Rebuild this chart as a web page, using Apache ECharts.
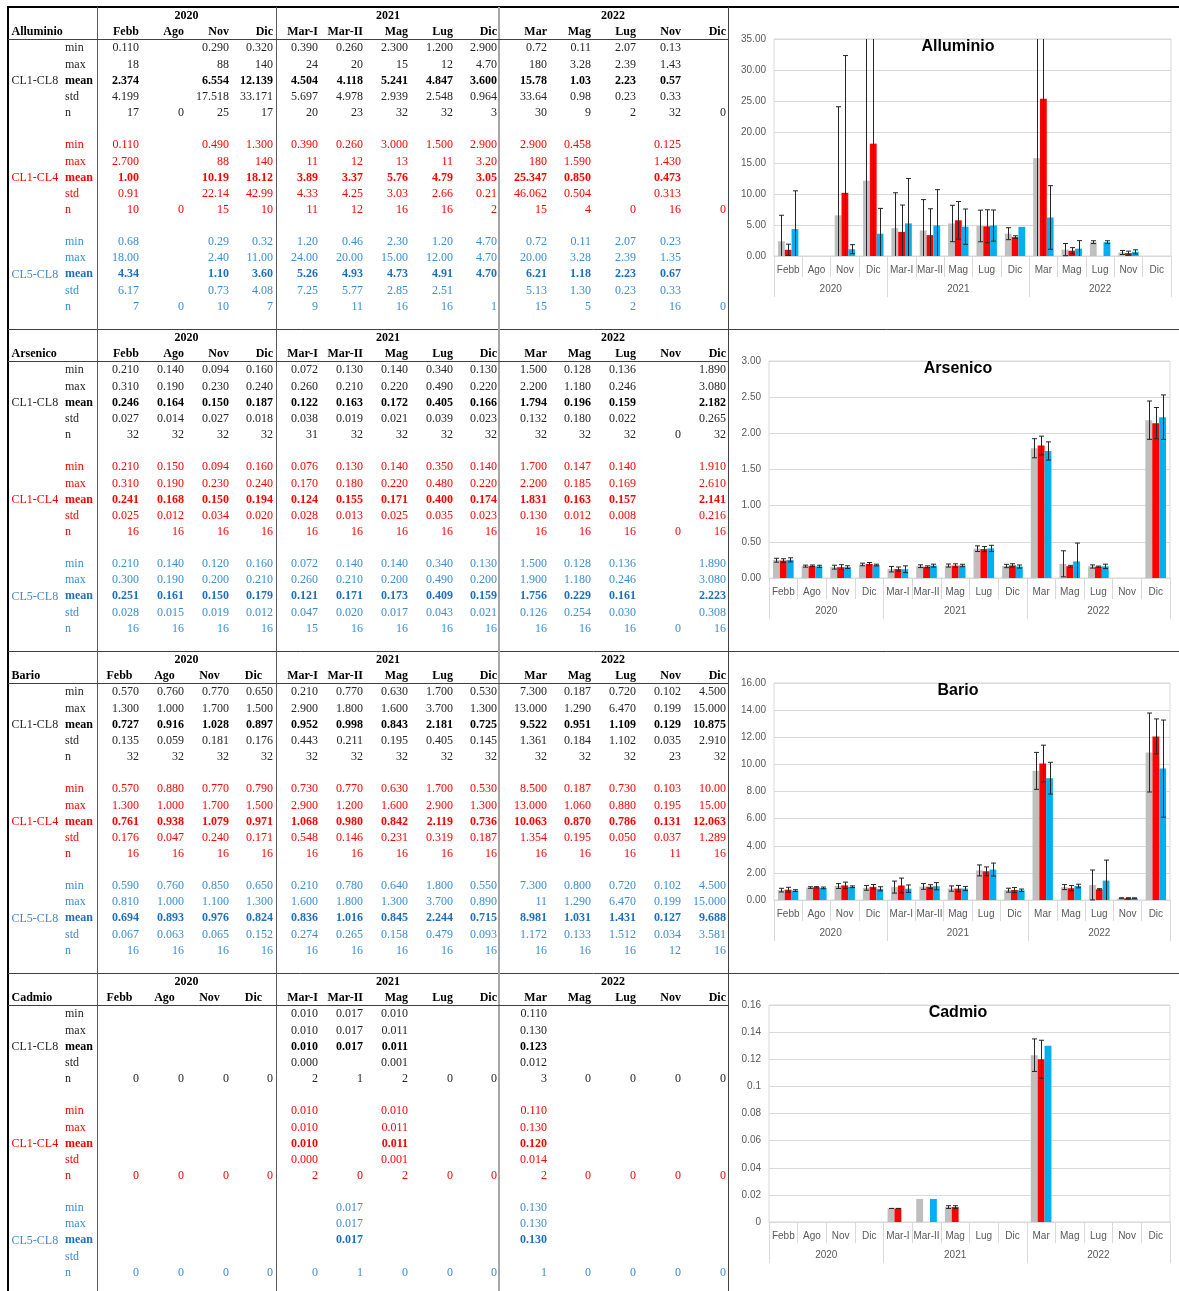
<!DOCTYPE html>
<html><head><meta charset="utf-8">
<script src="https://cdn.jsdelivr.net/npm/echarts@6/dist/echarts.min.js"></script>
<style>html,body{margin:0;padding:0;background:#fff}#c{width:1179px;height:1291px}</style>
</head><body><div id="c"></div>
<script>
// ---------- categories ----------
const months = ['Febb','Ago','Nov','Dic','Mar-I','Mar-II','Mag','Lug','Dic','Mar','Mag','Lug','Nov','Dic'];
const years = ['2020','2021','2022'];
const yearStart = [0, 4, 9];
const groupNames = ['CL1-CL8','CL1-CL4','CL5-CL8'];
const statNames = ['min','max','mean','std','n'];

// ---------- Alluminio ----------
const AL1_min  = ['0.110','','0.290','0.320','0.390','0.260','2.300','1.200','2.900','0.72','0.11','2.07','0.13',''];
const AL1_max  = ['18','','88','140','24','20','15','12','4.70','180','3.28','2.39','1.43',''];
const AL1_mean = ['2.374','','6.554','12.139','4.504','4.118','5.241','4.847','3.600','15.78','1.03','2.23','0.57',''];
const AL1_std  = ['4.199','','17.518','33.171','5.697','4.978','2.939','2.548','0.964','33.64','0.98','0.23','0.33',''];
const AL1_n    = ['17','0','25','17','20','23','32','32','3','30','9','2','32','0'];
const AL2_min  = ['0.110','','0.490','1.300','0.390','0.260','3.000','1.500','2.900','2.900','0.458','','0.125',''];
const AL2_max  = ['2.700','','88','140','11','12','13','11','3.20','180','1.590','','1.430',''];
const AL2_mean = ['1.00','','10.19','18.12','3.89','3.37','5.76','4.79','3.05','25.347','0.850','','0.473',''];
const AL2_std  = ['0.91','','22.14','42.99','4.33','4.25','3.03','2.66','0.21','46.062','0.504','','0.313',''];
const AL2_n    = ['10','0','15','10','11','12','16','16','2','15','4','0','16','0'];
const AL3_min  = ['0.68','','0.29','0.32','1.20','0.46','2.30','1.20','4.70','0.72','0.11','2.07','0.23',''];
const AL3_max  = ['18.00','','2.40','11.00','24.00','20.00','15.00','12.00','4.70','20.00','3.28','2.39','1.35',''];
const AL3_mean = ['4.34','','1.10','3.60','5.26','4.93','4.73','4.91','4.70','6.21','1.18','2.23','0.67',''];
const AL3_std  = ['6.17','','0.73','4.08','7.25','5.77','2.85','2.51','','5.13','1.30','0.23','0.33',''];
const AL3_n    = ['7','0','10','7','9','11','16','16','1','15','5','2','16','0'];

// ---------- Arsenico ----------
const AS1_min  = ['0.210','0.140','0.094','0.160','0.072','0.130','0.140','0.340','0.130','1.500','0.128','0.136','','1.890'];
const AS1_max  = ['0.310','0.190','0.230','0.240','0.260','0.210','0.220','0.490','0.220','2.200','1.180','0.246','','3.080'];
const AS1_mean = ['0.246','0.164','0.150','0.187','0.122','0.163','0.172','0.405','0.166','1.794','0.196','0.159','','2.182'];
const AS1_std  = ['0.027','0.014','0.027','0.018','0.038','0.019','0.021','0.039','0.023','0.132','0.180','0.022','','0.265'];
const AS1_n    = ['32','32','32','32','31','32','32','32','32','32','32','32','0','32'];
const AS2_min  = ['0.210','0.150','0.094','0.160','0.076','0.130','0.140','0.350','0.140','1.700','0.147','0.140','','1.910'];
const AS2_max  = ['0.310','0.190','0.230','0.240','0.170','0.180','0.220','0.480','0.220','2.200','0.185','0.169','','2.610'];
const AS2_mean = ['0.241','0.168','0.150','0.194','0.124','0.155','0.171','0.400','0.174','1.831','0.163','0.157','','2.141'];
const AS2_std  = ['0.025','0.012','0.034','0.020','0.028','0.013','0.025','0.035','0.023','0.130','0.012','0.008','','0.216'];
const AS2_n    = ['16','16','16','16','16','16','16','16','16','16','16','16','0','16'];
const AS3_min  = ['0.210','0.140','0.120','0.160','0.072','0.140','0.140','0.340','0.130','1.500','0.128','0.136','','1.890'];
const AS3_max  = ['0.300','0.190','0.200','0.210','0.260','0.210','0.200','0.490','0.200','1.900','1.180','0.246','','3.080'];
const AS3_mean = ['0.251','0.161','0.150','0.179','0.121','0.171','0.173','0.409','0.159','1.756','0.229','0.161','','2.223'];
const AS3_std  = ['0.028','0.015','0.019','0.012','0.047','0.020','0.017','0.043','0.021','0.126','0.254','0.030','','0.308'];
const AS3_n    = ['16','16','16','16','15','16','16','16','16','16','16','16','0','16'];

// ---------- Bario ----------
const BA1_min  = ['0.570','0.760','0.770','0.650','0.210','0.770','0.630','1.700','0.530','7.300','0.187','0.720','0.102','4.500'];
const BA1_max  = ['1.300','1.000','1.700','1.500','2.900','1.800','1.600','3.700','1.300','13.000','1.290','6.470','0.199','15.000'];
const BA1_mean = ['0.727','0.916','1.028','0.897','0.952','0.998','0.843','2.181','0.725','9.522','0.951','1.109','0.129','10.875'];
const BA1_std  = ['0.135','0.059','0.181','0.176','0.443','0.211','0.195','0.405','0.145','1.361','0.184','1.102','0.035','2.910'];
const BA1_n    = ['32','32','32','32','32','32','32','32','32','32','32','32','23','32'];
const BA2_min  = ['0.570','0.880','0.770','0.790','0.730','0.770','0.630','1.700','0.530','8.500','0.187','0.730','0.103','10.00'];
const BA2_max  = ['1.300','1.000','1.700','1.500','2.900','1.200','1.600','2.900','1.300','13.000','1.060','0.880','0.195','15.00'];
const BA2_mean = ['0.761','0.938','1.079','0.971','1.068','0.980','0.842','2.119','0.736','10.063','0.870','0.786','0.131','12.063'];
const BA2_std  = ['0.176','0.047','0.240','0.171','0.548','0.146','0.231','0.319','0.187','1.354','0.195','0.050','0.037','1.289'];
const BA2_n    = ['16','16','16','16','16','16','16','16','16','16','16','16','11','16'];
const BA3_min  = ['0.590','0.760','0.850','0.650','0.210','0.780','0.640','1.800','0.550','7.300','0.800','0.720','0.102','4.500'];
const BA3_max  = ['0.810','1.000','1.100','1.300','1.600','1.800','1.300','3.700','0.890','11','1.290','6.470','0.199','15.000'];
const BA3_mean = ['0.694','0.893','0.976','0.824','0.836','1.016','0.845','2.244','0.715','8.981','1.031','1.431','0.127','9.688'];
const BA3_std  = ['0.067','0.063','0.065','0.152','0.274','0.265','0.158','0.479','0.093','1.172','0.133','1.512','0.034','3.581'];
const BA3_n    = ['16','16','16','16','16','16','16','16','16','16','16','16','12','16'];

// ---------- Cadmio ----------
const CD1_min  = ['','','','','0.010','0.017','0.010','','','0.110','','','',''];
const CD1_max  = ['','','','','0.010','0.017','0.011','','','0.130','','','',''];
const CD1_mean = ['','','','','0.010','0.017','0.011','','','0.123','','','',''];
const CD1_std  = ['','','','','0.000','','0.001','','','0.012','','','',''];
const CD1_n    = ['0','0','0','0','2','1','2','0','0','3','0','0','0','0'];
const CD2_min  = ['','','','','0.010','','0.010','','','0.110','','','',''];
const CD2_max  = ['','','','','0.010','','0.011','','','0.130','','','',''];
const CD2_mean = ['','','','','0.010','','0.011','','','0.120','','','',''];
const CD2_std  = ['','','','','0.000','','0.001','','','0.014','','','',''];
const CD2_n    = ['0','0','0','0','2','0','2','0','0','2','0','0','0','0'];
const CD3_min  = ['','','','','','0.017','','','','0.130','','','',''];
const CD3_max  = ['','','','','','0.017','','','','0.130','','','',''];
const CD3_mean = ['','','','','','0.017','','','','0.130','','','',''];
const CD3_std  = ['','','','','','','','','','','','','',''];
const CD3_n    = ['0','0','0','0','0','1','0','0','0','1','0','0','0','0'];

// ---------- assemble ----------
const panels = [
  {name:'Alluminio', groups:[[AL1_min,AL1_max,AL1_mean,AL1_std,AL1_n],[AL2_min,AL2_max,AL2_mean,AL2_std,AL2_n],[AL3_min,AL3_max,AL3_mean,AL3_std,AL3_n]], yMax:35, yInt:5, fmt:v=>v.toFixed(2)},
  {name:'Arsenico', groups:[[AS1_min,AS1_max,AS1_mean,AS1_std,AS1_n],[AS2_min,AS2_max,AS2_mean,AS2_std,AS2_n],[AS3_min,AS3_max,AS3_mean,AS3_std,AS3_n]], yMax:3, yInt:0.5, fmt:v=>v.toFixed(2)},
  {name:'Bario', groups:[[BA1_min,BA1_max,BA1_mean,BA1_std,BA1_n],[BA2_min,BA2_max,BA2_mean,BA2_std,BA2_n],[BA3_min,BA3_max,BA3_mean,BA3_std,BA3_n]], yMax:16, yInt:2, fmt:v=>v.toFixed(2)},
  {name:'Cadmio', groups:[[CD1_min,CD1_max,CD1_mean,CD1_std,CD1_n],[CD2_min,CD2_max,CD2_mean,CD2_std,CD2_n],[CD3_min,CD3_max,CD3_mean,CD3_std,CD3_n]], yMax:0.16, yInt:0.02, fmt:v=>String(+v.toFixed(2))}
];

const num = s => (s === '' ? null : parseFloat(s));

// layout
const colX = [139,184,229,273,318,363,408,453,497,547,591,636,681,726];
const panelTop = [0,322,644,966];
const yearCx = [186.5, 388, 613];
const rowY0 = 48.3, rowH = 16.15;
const grids = [
  {left:774, top:39, width:397, height:217},
  {left:769, top:361, width:401, height:217},
  {left:774, top:683, width:396, height:217},
  {left:769, top:1005, width:401, height:217}
];
const barColors = ['#bfbfbf','#ff0000','#00b0f0'];
const txtColors = [
  {norm:'#262626', bold:'#000000', lab:'#262626', grp:'#262626'},
  {norm:'#ff0000', bold:'#ff0000', lab:'#ff0000', grp:'#ff0000'},
  {norm:'#3b8ed6', bold:'#1f6fbf', lab:'#3b8ed6', grp:'#4a86c8'}
];
const BW = 0.24;

const G = [];
function txt(x, y, s, fill, bold, align, size, fam) {
  G.push({type:'text', silent:true, x:x, y:y, z:10,
    style:{text:s, fill:fill, font:(bold?'bold ':'') + (size||12) + 'px ' + (fam||'"Liberation Serif"'),
      textAlign:align, textVerticalAlign:'middle', align:align, verticalAlign:'middle'}});
}
function line(x1, y1, x2, y2, color, w) {
  G.push({type:'line', silent:true, z:11, shape:{x1:x1,y1:y1,x2:x2,y2:y2}, style:{stroke:color, lineWidth:w}});
}

// table frame
line(7, 7, 1179, 7, '#000', 2);
line(8, 6, 8, 1291, '#000', 2);
[329.5, 651.5, 973.5].forEach(y => line(8, y, 1179, y, '#404040', 1));
line(97.5, 7, 97.5, 1291, '#595959', 1);
line(276.5, 7, 276.5, 1291, '#595959', 1);
line(499, 7, 499, 1291, '#a6a6a6', 2);
line(728.5, 7, 728.5, 1291, '#404040', 1);

panels.forEach((p, pi) => {
  const oy = panelTop[pi];
  line(8, oy + 39.5, 728, oy + 39.5, '#404040', 1);
  years.forEach((yr, j) => txt(yearCx[j], oy + 16, yr, '#000', true, 'center'));
  months.forEach((m, i) => {
    if (pi >= 2 && i < 4) txt(colX[i] - 19.5, oy + 32, m, '#000', true, 'center');
    else txt(colX[i], oy + 32, m, '#000', true, 'right');
  });
  txt(11.5, oy + 32, p.name, '#000', true, 'left');
  p.groups.forEach((grp, gi) => {
    const c = txtColors[gi];
    grp.forEach((arr, si) => {
      const y = oy + rowY0 + (gi * 6 + si) * rowH;
      const b = si === 2;
      txt(65, y, statNames[si], b ? c.bold : c.lab, b, 'left');
      arr.forEach((v, i) => { if (v !== '') txt(colX[i], y, v, b ? c.bold : c.norm, b, 'right'); });
    });
    txt(11.5, oy + rowY0 + (gi * 6 + 2) * rowH, groupNames[gi], c.grp, false, 'left');
  });
  // chart title
  const gb = grids[pi];
  txt(958, gb.top + 8, p.name, '#000', true, 'center', 16, '"Liberation Sans", Arial, sans-serif');
});

// year centres on the category scale
const yearCenter = years.map((y, j) => {
  const s = yearStart[j], e = (j + 1 < yearStart.length ? yearStart[j + 1] : months.length) - 1;
  return (s + e) / 2;
});

const xAxes = [], yAxes = [], series = [];
const axisGrey = '#d9d9d9', lblGrey = '#595959', lblFont = '"Liberation Sans", Arial, sans-serif';

function errRender(k) {
  return function (params, api) {
    const i = api.value(0), m = api.value(1), s = api.value(2);
    const band = api.size([1, 0])[0];
    const cx = Math.round(api.coord([i, m])[0] + (k - 1) * band * BW) + 0.5;
    const cs = params.coordSys;
    const top = cs.y, bot = cs.y + cs.height;
    let y1 = api.coord([i, m + s])[1], y2 = api.coord([i, m - s])[1];
    const cap1 = y1 >= top - 0.1, cap2 = y2 <= bot + 0.1;
    y1 = Math.max(y1, top); y2 = Math.min(y2, bot);
    const st = {stroke:'#262626', lineWidth:1};
    const ch = [{type:'line', shape:{x1:cx, y1:y1, x2:cx, y2:y2}, style:st}];
    if (cap1) ch.push({type:'line', shape:{x1:cx - 2.5, y1:y1, x2:cx + 2.5, y2:y1}, style:st});
    if (cap2) ch.push({type:'line', shape:{x1:cx - 2.5, y1:y2, x2:cx + 2.5, y2:y2}, style:st});
    return {type:'group', children:ch};
  };
}

panels.forEach((p, pi) => {
  xAxes.push({type:'category', gridIndex:pi, position:'bottom', data:months,
    axisLine:{show:true, lineStyle:{color:axisGrey}},
    axisTick:{show:true, interval:0, length:21, lineStyle:{color:axisGrey}},
    axisLabel:{interval:0, fontSize:10, color:lblGrey, margin:9, fontFamily:lblFont},
    splitLine:{show:false}});
  xAxes.push({type:'category', gridIndex:pi, position:'bottom', data:months,
    axisLine:{show:false}, axisLabel:{show:false}, splitLine:{show:false},
    axisTick:{show:true, length:41, interval:(idx) => yearStart.indexOf(idx) >= 0, lineStyle:{color:axisGrey}}});
  xAxes.push({type:'value', gridIndex:pi, position:'bottom', min:-0.5, max:months.length - 0.5, interval:0.5,
    axisLine:{show:false}, axisTick:{show:false}, splitLine:{show:false},
    axisLabel:{fontSize:10, color:lblGrey, margin:28, fontFamily:lblFont, showMinLabel:true, showMaxLabel:true,
      formatter:(v) => { const j = yearCenter.findIndex(c => Math.abs(c - v) < 1e-6); return j >= 0 ? years[j] : ''; }}});
  yAxes.push({type:'value', gridIndex:pi, min:0, max:p.yMax, interval:p.yInt,
    axisLine:{show:false}, axisTick:{show:false},
    axisLabel:{fontSize:10, color:lblGrey, margin:8, fontFamily:lblFont, formatter:p.fmt},
    splitLine:{show:true, lineStyle:{color:axisGrey, width:1}}});
  p.groups.forEach((grp, k) => {
    series.push({type:'bar', name:groupNames[k], xAxisIndex:pi * 3, yAxisIndex:pi,
      data:grp[2].map(num), barWidth:(BW * 100) + '%', barGap:'0%',
      itemStyle:{color:barColors[k]}, z:2, silent:true});
  });
  p.groups.forEach((grp, k) => {
    const d = [];
    grp[2].forEach((v, i) => { const m = num(v), s = num(grp[3][i]); if (m !== null && s !== null) d.push([i, m, s]); });
    series.push({type:'custom', name:groupNames[k] + ' std', xAxisIndex:pi * 3, yAxisIndex:pi,
      renderItem:errRender(k), data:d, encode:{x:0, y:1}, z:5, silent:true, clip:false});
  });
});

const chart = echarts.init(document.getElementById('c'), null, {renderer:'canvas', width:1179, height:1291});
chart.setOption({
  animation:false,
  backgroundColor:'#ffffff',
  grid:grids.map(g => Object.assign({show:true, borderColor:axisGrey, borderWidth:1, backgroundColor:'transparent', containLabel:false, outerBoundsMode:'none'}, g)),
  xAxis:xAxes,
  yAxis:yAxes,
  series:series,
  graphic:{elements:G}
});
</script></body></html>
